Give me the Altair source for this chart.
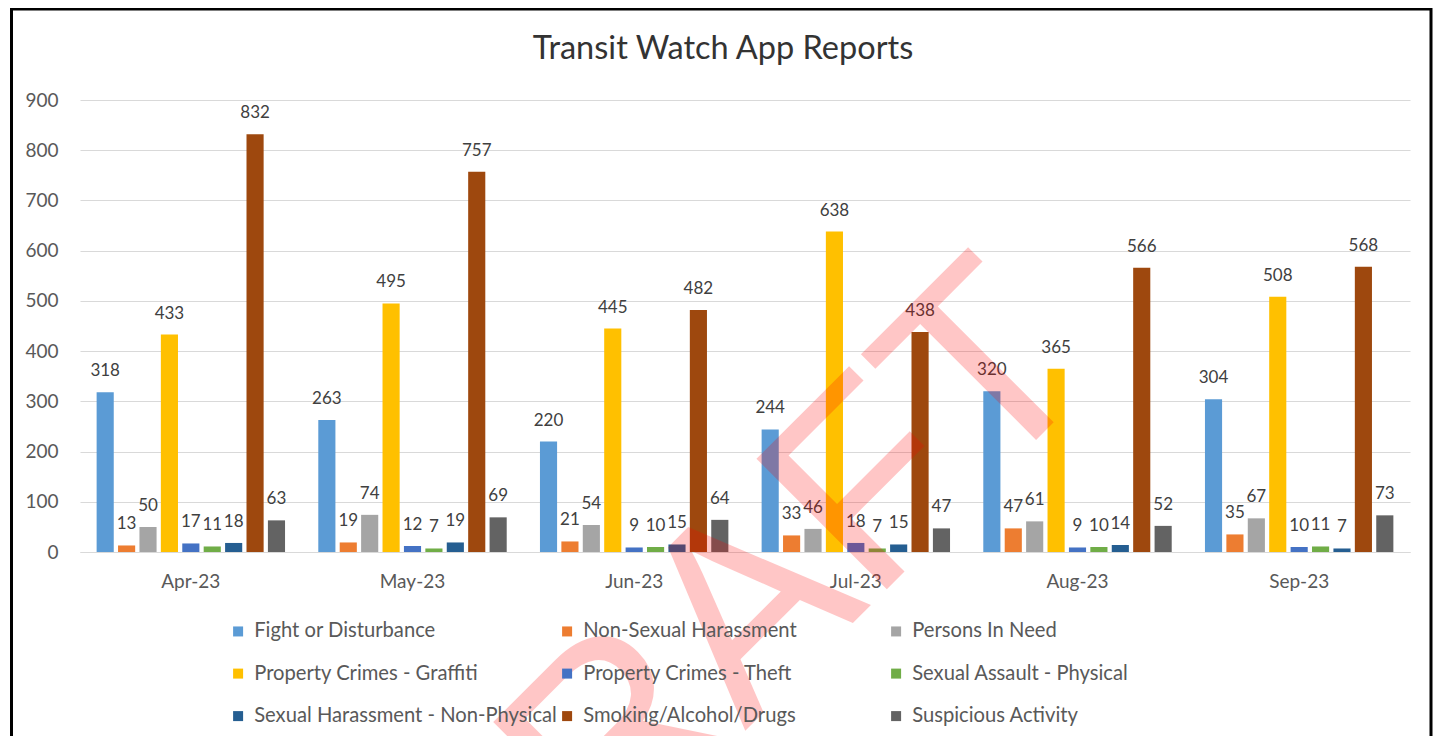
import altair as alt
import pandas as pd

months = ["Apr-23", "May-23", "Jun-23", "Jul-23", "Aug-23", "Sep-23"]
categories = [
    "Fight or Disturbance",
    "Non-Sexual Harassment",
    "Persons In Need",
    "Property Crimes - Graffiti",
    "Property Crimes - Theft",
    "Sexual Assault - Physical",
    "Sexual Harassment - Non-Physical",
    "Smoking/Alcohol/Drugs",
    "Suspicious Activity",
]
colors = ["#5B9BD5", "#ED7D31", "#A5A5A5", "#FFC000", "#4472C4",
          "#70AD47", "#255E91", "#9E480E", "#636363"]

fight = [318, 263, 220, 244, 320, 304]
non_sexual = [13, 19, 21, 33, 47, 35]
persons = [50, 74, 54, 46, 61, 67]
graffiti = [433, 495, 445, 638, 365, 508]
theft = [17, 12, 9, 18, 9, 10]
assault = [11, 7, 10, 7, 10, 11]
harassment = [18, 19, 15, 15, 14, 7]
smoking = [832, 757, 482, 438, 566, 568]
suspicious = [63, 69, 64, 47, 52, 73]

y_ticks = [0, 100, 200, 300, 400, 500, 600, 700, 800, 900]
title_text = ["Transit Watch App Reports"]
watermark_text = ["DRAFT"]

series = [fight, non_sexual, persons, graffiti, theft, assault, harassment, smoking, suspicious]
rows = []
for cat, vals in zip(categories, series):
    for m, v in zip(months, vals):
        rows.append({"month": m, "category": cat, "value": v})
df = pd.DataFrame(rows)

FONT = "Lato"

x_enc = alt.X("month:N", sort=months,
              scale=alt.Scale(paddingInner=0.15, paddingOuter=0.075),
              axis=alt.Axis(title=None, labelAngle=0, ticks=False, domainColor="#D9D9D9",
                            domainWidth=1, labelFont=FONT, labelFontSize=19,
                            labelColor="#595959", labelPadding=20, grid=False))
xoff_enc = alt.XOffset("category:N", sort=categories, scale=alt.Scale(paddingInner=0.2))
y_enc = alt.Y("value:Q", scale=alt.Scale(domain=[0, 900], nice=False),
              axis=alt.Axis(title=None, values=y_ticks, ticks=False, domain=False,
                            gridColor="#D9D9D9", gridWidth=1, labelFont=FONT,
                            labelFontSize=19, labelColor="#595959", labelPadding=22))

bars = alt.Chart(df).mark_bar().encode(
    x=x_enc,
    xOffset=xoff_enc,
    y=y_enc,
    color=alt.Color("category:N", sort=categories,
                    scale=alt.Scale(domain=categories, range=colors),
                    legend=alt.Legend(title=None, orient="none", legendX=148, legendY=521,
                                      direction="horizontal", columns=3, gridAlign="all",
                                      columnPadding=-5, rowPadding=21.5, symbolType="square",
                                      symbolSize=100, symbolStrokeWidth=0, labelFont=FONT,
                                      labelFontSize=20.2, labelColor="#595959", labelOffset=6,
                                      labelLimit=500)),
)

labels = alt.Chart(df).mark_text(baseline="bottom", dy=-12, font=FONT, fontSize=17,
                                 color="#404040").encode(
    x=x_enc,
    xOffset=xoff_enc,
    y=y_enc,
    text=alt.Text("value:Q"),
)

title = alt.Chart(pd.DataFrame({"t": title_text})).mark_text(
    font=FONT, fontSize=32.5, color="#333333", align="center", baseline="middle"
).encode(x=alt.value(643), y=alt.value(-51), text="t:N")

frame = alt.Chart(pd.DataFrame({"k": [0]})).mark_rect(
    fill=None, stroke="#000000", strokeWidth=3
).encode(
    x=alt.value(-68.5), x2=alt.value(1351), y=alt.value(-91), y2=alt.value(700)
)

watermark = alt.Chart(pd.DataFrame({"t": watermark_text})).mark_text(
    angle=315, font="Liberation Sans", fontSize=268, color="#FF0000", opacity=0.22,
    align="center", baseline="alphabetic"
).encode(
    x=alt.value(707), y=alt.value(589), text="t:N"
)

chart = alt.layer(bars, labels, title, frame, watermark).properties(
    width=1330,
    height=452,
    background="white",
    autosize=alt.AutoSizeParams(type="none"),
    padding={"left": 72, "top": 92, "right": 26, "bottom": 184},
).configure_view(strokeWidth=0)

chart.save("out.html", embed_options={"renderer": "svg", "actions": False})
